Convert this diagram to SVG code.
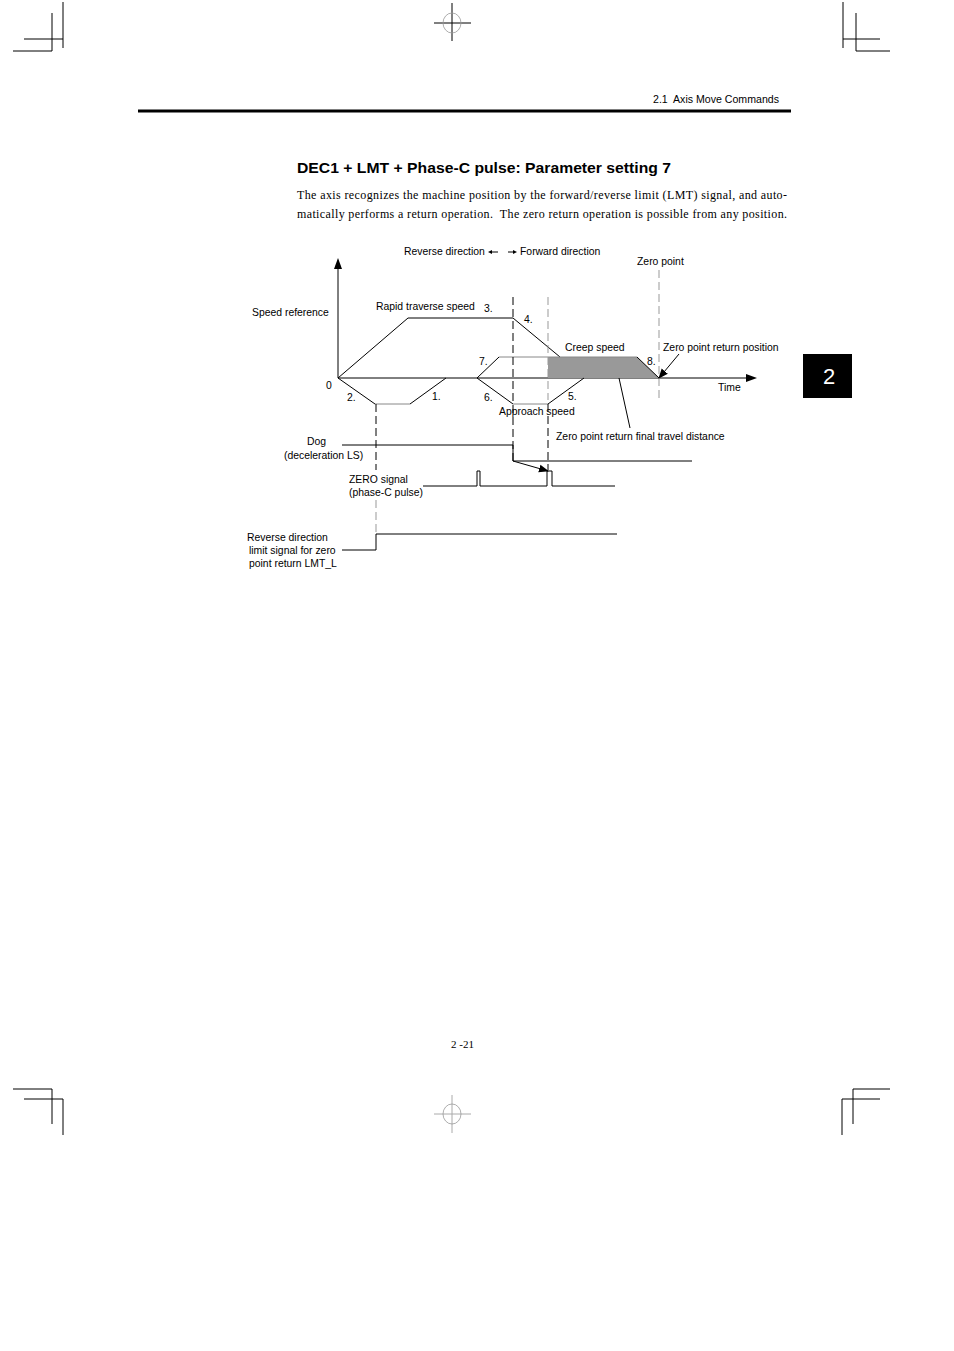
<svg xmlns="http://www.w3.org/2000/svg" width="954" height="1351" viewBox="0 0 954 1351">
<style>
.t{font-family:"Liberation Sans",Arial,sans-serif;font-size:10.4px;fill:#000}
.s{font-family:"Liberation Serif","Times New Roman",serif;font-size:12px;fill:#000}
.ln{stroke:#000;stroke-width:1;fill:none}
.gr{stroke:#888;stroke-width:1;fill:none}
.dk{stroke:#000;stroke-width:1;fill:none;stroke-dasharray:8,4}
.dg{stroke:#999;stroke-width:1;fill:none;stroke-dasharray:8,4}
.cm{stroke:#000;stroke-width:1;fill:none}
</style>
<defs>
<marker id="ah" markerWidth="10" markerHeight="10" refX="9" refY="5" orient="auto" markerUnits="userSpaceOnUse">
<path d="M0,1 L10,5 L0,9 Z" fill="#000"/>
</marker>
</defs>
<rect width="954" height="1351" fill="#fff"/>

<g id="crop-marks">
<path class="cm" d="M63,2 V48 M24,39 H63 M52,13 V51 M13,51 H52"/>
<path class="cm" d="M843,2 V48 M843,39 H880 M856,13 V51 M856,51 H890"/>
<path class="cm" d="M452,3 V41 M434,23 H471"/>
<ellipse cx="452" cy="23" rx="9" ry="10" fill="none" stroke="#999" stroke-width="0.8"/>
<path class="cm" d="M13,1089 H52 V1124 M24,1099 H63 V1135"/>
<path class="cm" d="M890,1089 H853 V1124 M880,1099 H842 V1135"/>
<path d="M452,1095 V1133 M434,1114 H471" stroke="#aaa" stroke-width="1" fill="none"/>
<ellipse cx="452" cy="1114" rx="9" ry="10" fill="none" stroke="#999" stroke-width="0.8"/>
</g>

<g id="header">
<text class="t" x="653" y="103" textLength="126" lengthAdjust="spacingAndGlyphs" style="font-size:10.5px" xml:space="preserve">2.1  Axis Move Commands</text>
<rect x="138" y="109.5" width="653" height="3" fill="#000"/>
</g>

<g id="tab">
<rect x="803" y="354" width="49" height="44" fill="#000"/>
<text x="829" y="384" text-anchor="middle" style="font-family:'Liberation Sans',Arial,sans-serif;font-size:22px;fill:#fff">2</text>
</g>

<g id="title">
<text x="297" y="173" textLength="374" lengthAdjust="spacingAndGlyphs" style="font-family:'Liberation Sans',Arial,sans-serif;font-size:15px;font-weight:bold">DEC1 + LMT + Phase-C pulse: Parameter setting 7</text>
<text class="s" x="297" y="199" textLength="490" lengthAdjust="spacing">The axis recognizes the machine position by the forward/reverse limit (LMT) signal, and auto-</text>
<text class="s" x="297" y="218" textLength="490" lengthAdjust="spacing" xml:space="preserve">matically performs a return operation.  The zero return operation is possible from any position.</text>
</g>

<g id="axes">
<line class="ln" x1="338" y1="378" x2="338" y2="268"/>
<path d="M338,258 L334,269 L342,269 Z" fill="#000"/>
<line class="ln" x1="338" y1="378" x2="748" y2="378"/>
<path d="M757,378 L746,374 L746,382 Z" fill="#000"/>
<text class="t" x="252" y="316">Speed reference</text>
<text class="t" x="326" y="389">0</text>
<text class="t" x="718" y="391">Time</text>
</g>

<g id="direction">
<text class="t" x="404" y="255">Reverse direction</text>
<line class="ln" x1="498" y1="252" x2="491" y2="252"/>
<path d="M488,252 L492,250 L492,254 Z" fill="#000"/>
<line class="ln" x1="508" y1="252" x2="514" y2="252"/>
<path d="M517,252 L513,250 L513,254 Z" fill="#000"/>
<text class="t" x="520" y="255">Forward direction</text>
<text class="t" x="637" y="265">Zero point</text>
</g>

<g id="shaded-area">
<polygon points="548,357 637,357 659,378 548,378" fill="#999"/>
</g>

<g id="speed-profile">
<polyline class="ln" points="338,378 408,318 513,318 560,357"/>
<polyline class="ln" points="338,378 375,404"/>
<line class="gr" x1="375" y1="404" x2="410" y2="404"/>
<line class="ln" x1="410" y1="404" x2="446" y2="378"/>
<line class="ln" x1="477" y1="378" x2="499" y2="357"/>
<line class="gr" x1="499" y1="357" x2="637" y2="357"/>
<line class="ln" x1="637" y1="357" x2="659" y2="378"/>
<line class="ln" x1="477" y1="378" x2="513" y2="404"/>
<line class="gr" x1="513" y1="404" x2="548" y2="404"/>
<line class="ln" x1="548" y1="404" x2="584" y2="378"/>
<text class="t" x="376" y="310">Rapid traverse speed</text>
<text class="t" x="484" y="312">3.</text>
<text class="t" x="524" y="323">4.</text>
<text class="t" x="565" y="351">Creep speed</text>
<text class="t" x="479" y="365">7.</text>
<text class="t" x="647" y="365">8.</text>
<text class="t" x="347" y="401">2.</text>
<text class="t" x="432" y="400">1.</text>
<text class="t" x="484" y="401">6.</text>
<text class="t" x="568" y="400">5.</text>
<text class="t" x="499" y="415">Approach speed</text>
<text class="t" x="663" y="351">Zero point return position</text>
<text class="t" x="556" y="440">Zero point return final travel distance</text>
</g>

<g id="guides">
<line class="dk" x1="513" y1="297" x2="513" y2="465"/>
<line class="dg" x1="548" y1="297" x2="548" y2="400"/>
<line class="dk" x1="548" y1="404" x2="548" y2="470"/>
<line class="dg" x1="659" y1="270" x2="659" y2="400"/>
<line class="dk" x1="376" y1="404" x2="376" y2="470"/>
<line class="dg" x1="376" y1="500" x2="376" y2="534"/>
</g>

<g id="dog-signal">
<polyline class="ln" points="342,445 513,445 513,461 692,461"/>
<text class="t" x="326" y="445" text-anchor="end">Dog</text>
<text class="t" x="284" y="459">(deceleration LS)</text>
</g>

<g id="zero-signal">
<polyline class="ln" points="423,486 477,486 477,471 480,471 480,486 547,486 547,471 552,471 552,486 615,486"/>
<text class="t" x="349" y="483">ZERO signal</text>
<text class="t" x="349" y="496">(phase-C pulse)</text>
</g>

<g id="lmt-signal">
<polyline class="ln" points="342,550 376,550 376,534 617,534"/>
<text class="t" x="247" y="541">Reverse direction</text>
<text class="t" x="249" y="554">limit signal for zero</text>
<text class="t" x="249" y="567">point return LMT_L</text>
</g>

<g id="connectors">
<line class="ln" x1="513" y1="461" x2="548" y2="471" marker-end="url(#ah)"/>
<line class="ln" x1="679" y1="354" x2="659" y2="378" marker-end="url(#ah)"/>
<line class="ln" x1="619" y1="378" x2="630" y2="428"/>
</g>

<g id="footer">
<text class="s" x="451" y="1048" style="font-size:11px">2 -21</text>
</g>
</svg>
